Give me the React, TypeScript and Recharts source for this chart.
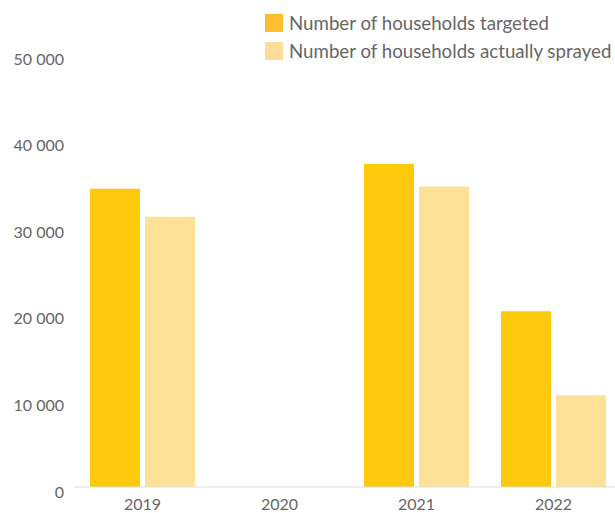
import React from "react";
import { BarChart, Bar, XAxis, YAxis } from "recharts";

const years = ["2019", "2020", "2021", "2022"];
const targeted = [34450, null, 37300, 20300];
const sprayed = [31200, null, 34700, 10600];
const yTicks = [0, 10000, 20000, 30000, 40000, 50000];

const seriesNames = ["Number of households targeted", "Number of households actually sprayed"];
const barColors = ["#FEC80D", "#FDE196"];
const legendColors = ["#FDBD2C", "#FEDD98"];

const data = years.map((y, i) => ({ year: y, targeted: targeted[i], sprayed: sprayed[i] }));

const fmt = (v: number) => (v === 0 ? "0" : String(v).replace(/\B(?=(\d{3})+(?!\d))/g, " "));

const FONT = "Lato, 'Open Sans', sans-serif";

const LegendBox = () => (
  <div
    style={{
      position: "absolute",
      top: 1,
      left: 257,
      fontFamily: FONT,
      fontSize: 18.7,
      color: "#666",
    }}
  >
    {seriesNames.map((n, i) => (
      <div key={n} style={{ display: "flex", alignItems: "center", height: 28, whiteSpace: "nowrap" }}>
        <div style={{ width: 18, height: 18, background: legendColors[i], marginRight: 6 }} />
        <span>{n}</span>
      </div>
    ))}
  </div>
);

export default function App() {
  return (
    <div style={{ position: "absolute", top: 8, left: 8, width: 607, height: 505, overflow: "hidden" }}>
      <BarChart
        width={622}
        height={510}
        data={data}
        margin={{ top: 46, right: 8, left: 0, bottom: 0 }}
        barCategoryGap={16}
        barGap={5}
        style={{ fontFamily: FONT }}
      >
        <XAxis
          dataKey="year"
          height={31}
          axisLine={{ stroke: "#dddddd" }}
          tickLine={false}
          tickMargin={6}
          tick={{ fill: "#666", fontSize: 16, fontFamily: FONT }}
        />
        <YAxis
          width={66}
          domain={[0, 50000]}
          ticks={yTicks}
          axisLine={false}
          tickLine={false}
          tickSize={0}
          tickMargin={10}
          tickFormatter={fmt}
          tick={{ fill: "#666", fontSize: 16, fontFamily: FONT, dy: 5 }}
        />
        <Bar dataKey="targeted" name={seriesNames[0]} fill={barColors[0]} barSize={50} isAnimationActive={false} />
        <Bar dataKey="sprayed" name={seriesNames[1]} fill={barColors[1]} barSize={50} isAnimationActive={false} />
      </BarChart>
      <LegendBox />
    </div>
  );
}
